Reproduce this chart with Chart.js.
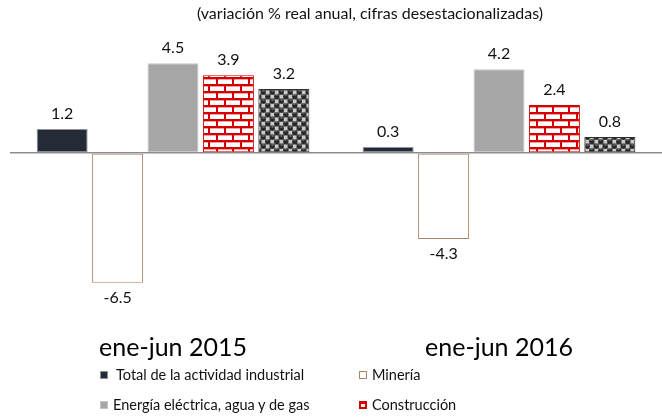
<!DOCTYPE html>
<html>
<head>
<meta charset="utf-8">
<script src="https://cdn.jsdelivr.net/npm/chart.js@4.4.1/dist/chart.umd.min.js"></script>
<style>
  body { margin: 0; background: #fff; }
  #wrap { position: relative; width: 662px; height: 417px; }
  #legend { position: absolute; left: 0; top: 0; width: 662px; height: 417px; pointer-events: none;
            font-family: Lato, "Open Sans", sans-serif; font-size: 14.5px; color: #111; }
  #legend .item { position: absolute; white-space: nowrap; line-height: 16px; }
  #legend .box { position: absolute; top: 4px; width: 8px; height: 8px; box-sizing: border-box; }
</style>
</head>
<body>
<div id="wrap">
  <canvas id="barChart" width="662" height="417"></canvas>
  <div id="legend"></div>
</div>
<script>
const categories = ["ene-jun 2015", "ene-jun 2016"];
const seriesNames = ["Total de la actividad industrial", "Minería", "Energía eléctrica, agua y de gas", "Construcción", "Manufacturas"];
const total = [1.2, 0.3];
const mineria = [-6.5, -4.3];
const energia = [4.5, 4.2];
const construccion = [3.9, 2.4];
const manufacturas = [3.2, 0.8];
const subtitle = "(variación % real anual, cifras desestacionalizadas)";

function brickPattern() {
    const c = document.createElement("canvas");
    c.width = 16; c.height = 14;
    const g = c.getContext("2d");
    g.fillStyle = "#fff";
    g.fillRect(0, 0, 16, 14);
    g.fillStyle = "#f0a0a0";
    g.fillRect(0, 2, 16, 1);
    g.fillRect(0, 9, 16, 1);
    g.fillStyle = "#d40000";
    g.fillRect(0, 0, 16, 2);
    g.fillRect(0, 7, 16, 2);
    g.fillRect(0, 0, 2, 7);
    g.fillRect(8, 7, 2, 7);
    return g.createPattern(c, "repeat");
}

function ballPattern() {
    const c = document.createElement("canvas");
    c.width = 9; c.height = 9;
    const g = c.getContext("2d");
    g.fillStyle = "#3c3c3c";
    g.fillRect(0, 0, 9, 9);
    g.fillStyle = "#cacaca";
    g.fillRect(4.5, 0.5, 4, 4);
    g.fillRect(0.5, 4.5, 4, 4);
    [[2.5, 2.5], [6.5, 6.5]].forEach(p => {
        g.fillStyle = "#262626";
        g.beginPath(); g.arc(p[0], p[1], 2.3, 0, Math.PI * 2); g.fill();
        g.fillStyle = "#9a9a9a";
        g.fillRect(p[0] - 1, p[1] - 2, 2, 1);
    });
    return g.createPattern(c, "repeat");
}

const valueLabels = {
    id: "valueLabels",
    afterDatasetsDraw(chart) {
        const ctx = chart.ctx;
        ctx.save();
        ctx.font = "16px Lato";
        ctx.fillStyle = "#111";
        ctx.textAlign = "center";
        ctx.textBaseline = "middle";
        chart.data.datasets.forEach((ds, i) => {
            chart.getDatasetMeta(i).data.forEach((bar, j) => {
                const v = ds.data[j];
                const y = v >= 0 ? bar.y - 15 : bar.y + 15;
                ctx.fillText(v.toFixed(1), bar.x, y);
            });
        });
        ctx.restore();
    }
};

// the subtitle sits right of centre in the original, so draw it by hand
const subtitleText = {
    id: "subtitleText",
    afterDraw(chart) {
        const ctx = chart.ctx;
        ctx.save();
        ctx.font = "16px Lato";
        ctx.fillStyle = "#111";
        ctx.textAlign = "center";
        ctx.textBaseline = "middle";
        ctx.fillText(subtitle, 370, 14);
        ctx.restore();
    }
};

let ready = (callback) => {
    if (document.readyState != "loading") callback();
    else document.addEventListener("DOMContentLoaded", callback);
}

ready(() => {
    const ctx = document.getElementById("barChart").getContext("2d");
    const bricks = brickPattern();
    const balls = ballPattern();
    const chart = new Chart(ctx, {
        type: "bar",
        data: {
            labels: categories,
            datasets: [{
                label: seriesNames[0], data: total,
                backgroundColor: "#252b36", borderColor: "#8e939b"
            }, {
                label: seriesNames[1], data: mineria,
                backgroundColor: "#ffffff", borderColor: "#b08468"
            }, {
                label: seriesNames[2], data: energia,
                backgroundColor: "#a6a6a6", borderColor: "#c4c4c4"
            }, {
                label: seriesNames[3], data: construccion,
                backgroundColor: bricks, borderColor: "#d40000"
            }, {
                label: seriesNames[4], data: manufacturas,
                backgroundColor: balls, borderColor: "#333333"
            }]
        },
        options: {
            responsive: false,
            animation: false,
            datasets: {
                bar: {
                    borderWidth: 1,
                    borderSkipped: false,
                    categoryPercentage: 0.85,
                    barPercentage: 0.92
                }
            },
            layout: { padding: { left: 10, right: 0, top: 30, bottom: 48 } },
            plugins: {
                legend: { display: false },
                tooltip: { enabled: false }
            },
            scales: {
                x: {
                    grid: { display: false },
                    border: { display: false },
                    ticks: {
                        color: "#000",
                        font: { family: "Lato", size: 25 },
                        padding: 6
                    }
                },
                y: {
                    min: -8.31,
                    max: 6.16,
                    border: { display: false },
                    grid: {
                        drawTicks: false,
                        color: c => c.tick.value === 0 ? "#8c8c8c" : "rgba(0,0,0,0)",
                        lineWidth: 1.5
                    },
                    ticks: { display: false, stepSize: 1 }
                }
            }
        },
        plugins: [valueLabels, subtitleText]
    });

    // legend in two columns, without the last series
    const legend = document.getElementById("legend");
    const spots = [[100, 367], [359, 367], [100, 397], [359, 397]];
    chart.data.datasets.slice(0, 4).forEach((ds, i) => {
        const item = document.createElement("div");
        item.className = "item";
        item.style.left = spots[i][0] + "px";
        item.style.top = spots[i][1] + "px";
        const box = document.createElement("span");
        box.className = "box";
        box.style.left = "0px";
        if (i === 3) {
            box.style.background = "#d40000";
            box.style.border = "2px solid #d40000";
            box.style.boxShadow = "inset 0 -3px 0 #fff";
        } else {
            box.style.background = ds.backgroundColor;
            box.style.border = "1px solid " + ds.borderColor;
        }
        const txt = document.createElement("span");
        txt.textContent = ds.label;
        txt.style.marginLeft = (i === 0 ? 16 : 13) + "px";
        item.appendChild(box);
        item.appendChild(txt);
        legend.appendChild(item);
    });
});
</script>
</body>
</html>
